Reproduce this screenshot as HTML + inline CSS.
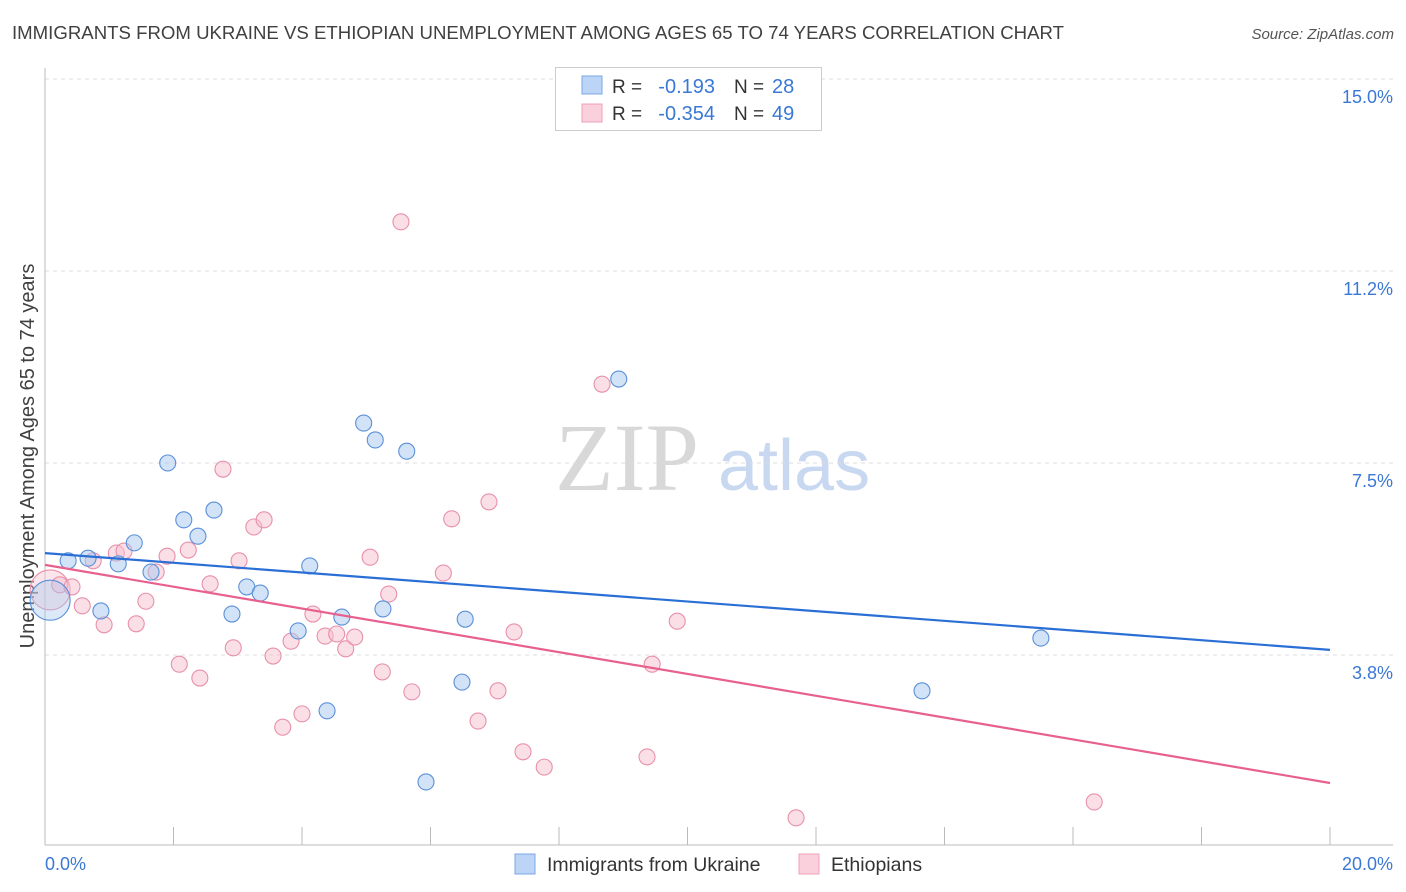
<!DOCTYPE html>
<html><head><meta charset="utf-8"><style>
body{margin:0;background:#fff;font-family:"Liberation Sans",sans-serif;}
#wrap{position:relative;width:1406px;height:892px;overflow:hidden;}
</style></head><body>
<div id="wrap">
<svg id="svg" width="1406" height="892" xmlns="http://www.w3.org/2000/svg">
<text x="12" y="39" font-size="18.6" fill="#404040" textLength="1052" lengthAdjust="spacingAndGlyphs">IMMIGRANTS FROM UKRAINE VS ETHIOPIAN UNEMPLOYMENT AMONG AGES 65 TO 74 YEARS CORRELATION CHART</text>
<text x="1394" y="39" font-size="15" fill="#555" font-style="italic" text-anchor="end">Source: ZipAtlas.com</text>
<text x="555" y="490" font-size="96" fill="#d8d8d8" font-family="Liberation Serif,serif">ZIP</text>
<text x="718" y="490" font-size="72" fill="#c8d8f0">atlas</text>
<text transform="translate(34,456) rotate(-90)" font-size="20" fill="#404040" text-anchor="middle">Unemployment Among Ages 65 to 74 years</text>
<g id="grid"></g><g id="marks"></g><g id="trend"></g>
<g>
<rect x="555.5" y="67.5" width="266" height="63" fill="#fff" stroke="#ccc"/>
<rect x="582" y="76" width="20" height="18" fill="#bcd4f5" stroke="#7aa8e6"/>
<text x="612" y="93" font-size="19" fill="#333">R =</text>
<text x="715" y="93" font-size="20" fill="#3a78d6" text-anchor="end">-0.193</text>
<text x="734" y="93" font-size="19" fill="#333">N =</text>
<text x="772" y="93" font-size="20" fill="#3a78d6">28</text>
<rect x="582" y="104" width="20" height="18" fill="#fad0dd" stroke="#f0a0b8"/>
<text x="612" y="120" font-size="19" fill="#333">R =</text>
<text x="715" y="120" font-size="20" fill="#3a78d6" text-anchor="end">-0.354</text>
<text x="734" y="120" font-size="19" fill="#333">N =</text>
<text x="772" y="120" font-size="20" fill="#3a78d6">49</text>
</g>
<g>
<rect x="515" y="854" width="20" height="20" fill="#bcd4f5" stroke="#7aa8e6"/>
<text x="547" y="871" font-size="19.5" fill="#333">Immigrants from Ukraine</text>
<rect x="799" y="854" width="20" height="20" fill="#fad0dd" stroke="#f0a0b8"/>
<text x="831" y="871" font-size="19.5" fill="#333">Ethiopians</text>
</g>
</svg>
<script>
const blueX=[0.08,0.36,0.67,0.87,1.14,1.39,1.65,1.91,2.16,2.38,2.63,2.91,3.14,3.35,3.94,4.12,4.39,4.62,4.96,5.14,5.26,5.63,5.93,6.49,6.54,8.93,13.65,15.50];
const blueY=[4.82,5.59,5.64,4.61,5.53,5.94,5.37,7.50,6.39,6.07,6.58,4.55,5.08,4.96,4.22,5.49,2.66,4.49,8.28,7.95,4.65,7.73,1.27,3.22,4.45,9.14,3.05,4.08];
const pinkX=[0.08,0.23,0.42,0.58,0.75,0.92,1.11,1.23,1.42,1.57,1.73,1.90,2.09,2.23,2.41,2.57,2.77,2.93,3.02,3.25,3.41,3.55,3.83,3.70,4.00,4.17,4.36,4.54,4.68,4.82,5.06,5.25,5.35,5.54,5.71,6.20,6.33,6.74,6.91,7.05,7.30,7.44,7.77,8.67,9.37,9.45,9.84,11.69,16.33];
const pinkY=[5.02,5.12,5.08,4.71,5.59,4.34,5.74,5.78,4.36,4.80,5.37,5.68,3.57,5.80,3.30,5.14,7.38,3.89,5.59,6.25,6.39,3.73,4.02,2.34,2.60,4.55,4.12,4.16,3.87,4.10,5.66,3.42,4.94,12.21,3.03,5.35,6.41,2.46,6.74,3.05,4.20,1.86,1.56,9.04,1.76,3.57,4.41,0.57,0.88];
const blueTrend=[5.74,3.85];
const pinkTrend=[5.51,1.25];
const yTicks=[3.75,7.5,11.25,15.0];
const yTickLabels=["3.8%","7.5%","11.2%","15.0%"];
const xTicks=[0,2,4,6,8,10,12,14,16,18,20];
const NS="http://www.w3.org/2000/svg";
const X=v=>45+v*64.25;
const Y=v=>847-v*51.2;
function mk(tag,attrs,parent){const e=document.createElementNS(NS,tag);for(const k in attrs)e.setAttribute(k,attrs[k]);parent.appendChild(e);return e;}
const grid=document.getElementById('grid'),marks=document.getElementById('marks'),trend=document.getElementById('trend');
yTicks.forEach((t,i)=>{
 const l=mk('line',{x1:45,x2:1393,y1:Y(t),y2:Y(t),stroke:'#ddd','stroke-dasharray':'4,4'},grid);
 
 
 const tx=mk('text',{x:1393,y:Y(t)+24,'font-size':18,fill:'#3a78d6','text-anchor':'end'},grid);
 tx.textContent=yTickLabels[i];
 
 
});
const ax=mk('line',{x1:45,x2:45,y1:68,y2:845,stroke:'#bbb'},grid);


const bx=mk('line',{x1:45,x2:1393,y1:845,y2:845,stroke:'#bbb'},grid);


xTicks.forEach(t=>{
 const l=mk('line',{x1:X(t),x2:X(t),y1:827,y2:845,stroke:'#bbb'},grid);
 
 
});
[[0,"0.0%","start",45],[20,"20.0%","end",1393]].forEach(a=>{
 const t=mk('text',{x:a[3],y:870,'font-size':18,fill:'#3a78d6','text-anchor':a[2]},grid);
 t.textContent=a[1];
 
 
});
function pts(xs,ys,fill,stroke,name){
 xs.forEach((x,i)=>{
  const c=mk('circle',{cx:X(x),cy:Y(ys[i]),r:i===0?20:8,fill:fill,'fill-opacity':i===0?0.4:0.5,stroke:stroke,'stroke-width':1.1},marks);
  
  
 });
}
pts(pinkX,pinkY,'#f8c0d0','#e890aa','ethiopians-point');
pts(blueX,blueY,'#a8c8f0','#5a90d8','ukraine-point');
const tb=mk('line',{x1:X(0),y1:Y(blueTrend[0]),x2:X(20),y2:Y(blueTrend[1]),stroke:'#2a6fd6','stroke-width':2.2},trend);


const tp=mk('line',{x1:X(0),y1:Y(pinkTrend[0]),x2:X(20),y2:Y(pinkTrend[1]),stroke:'#e8608e','stroke-width':2.2},trend);


</script>
</div></body></html>
